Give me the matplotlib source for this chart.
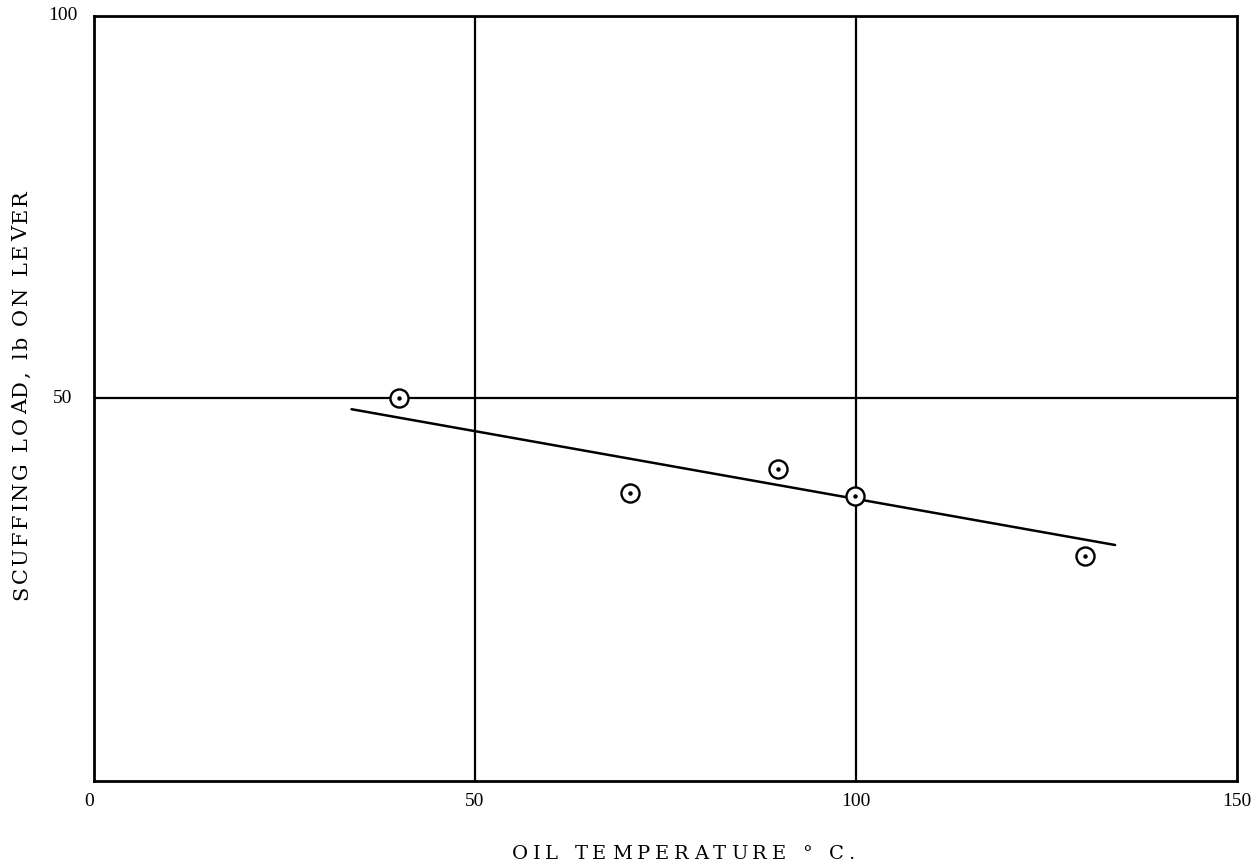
import matplotlib
matplotlib.use("Agg")
import matplotlib.pyplot as plt
from matplotlib import ft2font
from matplotlib.font_manager import findfont, FontProperties

# Measured scuffing loads
oil_temp_c = [40, 70.4, 89.7, 99.9, 130.1]
scuffing_load_lb = [50, 37.6, 40.8, 37.2, 29.4]

# Fitted trend line end points
trend_temp_c = [33.8, 134.0]
trend_load_lb = [48.6, 30.85]

x_ticks = [0, 50, 100, 150]
x_tick_labels = ["0", "50", "100", "150"]
y_ticks = [50, 100]
y_tick_labels = ["50", "100"]

x_title = "OIL TEMPERATURE ° C."
y_title = "SCUFFING LOAD, lb ON LEVER"

SERIF = "Liberation Serif"
TITLE_SERIF = "DejaVu Serif"
plt.rcParams["font.family"] = [SERIF, "DejaVu Serif"]

W, H, DPI = 1251, 868, 100
fig = plt.figure(figsize=(W / DPI, H / DPI), dpi=DPI)
ax = fig.add_axes([94 / W, 1 - 781 / H, (1237 - 94) / W, (781 - 16) / H])
ax.set_xlim(0, 150)
ax.set_ylim(0, 100)

for side in ax.spines.values():
    side.set_linewidth(2.0)
    side.set_color("black")

ax.axvline(50, color="black", lw=1.6)
ax.axvline(100, color="black", lw=1.6)
ax.axhline(50, color="black", lw=1.6)

ax.plot(trend_temp_c, trend_load_lb, color="black", lw=1.8, solid_capstyle="round")
ax.plot(oil_temp_c, scuffing_load_lb, linestyle="none", marker="o", markersize=13,
        markerfacecolor="white", markeredgecolor="black", markeredgewidth=1.7, zorder=3)
ax.plot(oil_temp_c, scuffing_load_lb, linestyle="none", marker="o", markersize=2.2,
        color="black", zorder=4)

ax.set_xticks([])
ax.set_yticks([])

# Numbers set by hand along the frame, as on a printed graph
for v, lab in zip(x_ticks, x_tick_labels):
    dx = -0.7 if v == 0 else 0.0
    ax.text(v + dx, -1.6, lab, ha="center", va="top", fontsize=14)
for v, lab in zip(y_ticks, y_tick_labels):
    ax.text(-2.2 - (0.6 if v == 50 else 0.0), v, lab, ha="right", va="center",
            fontsize=14)


def glyph_advances(text, size, family):
    font = ft2font.FT2Font(findfont(FontProperties(family=family)))
    font.set_size(size, 72)
    return [font.load_char(ord(ch)).linearHoriAdvance / 65536.0 for ch in text]


def letterspaced(text, center_px, baseline_px, size, length_px, vertical=False,
                 family=TITLE_SERIF):
    """Draw a letter-spaced title whose overall length is length_px."""
    adv = glyph_advances(text, size, family)
    track = (length_px * 72.0 / DPI - sum(adv)) / (len(text) - 1)
    pos = center_px - length_px / 2.0
    for ch, a in zip(text, adv):
        if ch != " ":
            if vertical:
                fig.text(baseline_px / W, pos / H, ch, rotation=90,
                         rotation_mode="anchor", ha="left", va="baseline",
                         fontsize=size, family=family)
            else:
                fig.text(pos / W, 1 - baseline_px / H, ch, ha="left",
                         va="baseline", fontsize=size, family=family)
        pos += (a + track) * DPI / 72.0


letterspaced(x_title, 683, 859, 14, 343)
letterspaced(y_title, H - 395, 27, 15, 410, vertical=True)

fig.savefig("out.png", dpi=DPI, facecolor="white")
